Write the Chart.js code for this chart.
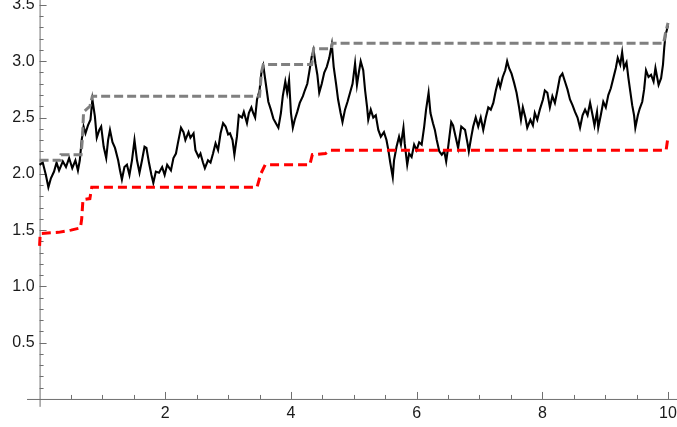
<!DOCTYPE html>
<html>
<head>
<meta charset="utf-8">
<script src="https://cdn.jsdelivr.net/npm/chart.js@4.4.1/dist/chart.umd.min.js"></script>
<style>
  html, body { margin: 0; padding: 0; background: #fff; }
  #wrap { width: 677px; height: 427px; position: relative; }
</style>
</head>
<body>
<div id="wrap"><canvas id="plot"></canvas></div>
<script>
// path (black)
const pathT = [
  0.00, 0.05, 0.10, 0.14, 0.18, 0.23, 0.27, 0.31, 0.37, 0.42, 0.47, 0.52, 0.57, 0.61, 0.64, 0.67, 0.70, 0.73, 0.77, 0.81,
  0.84, 0.88, 0.91, 0.95, 0.98, 1.02, 1.06, 1.09, 1.12, 1.16, 1.20, 1.25, 1.28, 1.31, 1.35, 1.39, 1.43, 1.47, 1.51, 1.55,
  1.59, 1.63, 1.67, 1.70, 1.74, 1.78, 1.81, 1.85, 1.90, 1.95, 1.99, 2.03, 2.09, 2.13, 2.17, 2.20, 2.25, 2.29, 2.32, 2.37,
  2.40, 2.45, 2.48, 2.53, 2.56, 2.60, 2.63, 2.68, 2.72, 2.76, 2.80, 2.84, 2.88, 2.92, 2.96, 3.00, 3.03, 3.07, 3.10, 3.14,
  3.17, 3.22, 3.25, 3.30, 3.33, 3.37, 3.40, 3.43, 3.46, 3.50, 3.53, 3.56, 3.60, 3.64, 3.68, 3.72, 3.76, 3.80, 3.84, 3.87,
  3.91, 3.94, 3.97, 4.00, 4.03, 4.06, 4.10, 4.14, 4.19, 4.22, 4.26, 4.29, 4.33, 4.36, 4.39, 4.42, 4.45, 4.49, 4.53, 4.57,
  4.61, 4.65, 4.68, 4.72, 4.75, 4.79, 4.82, 4.86, 4.90, 4.94, 4.98, 5.02, 5.05, 5.08, 5.11, 5.15, 5.18, 5.21, 5.23, 5.27,
  5.31, 5.35, 5.39, 5.43, 5.48, 5.52, 5.55, 5.58, 5.62, 5.64, 5.68, 5.72, 5.75, 5.79, 5.81, 5.85, 5.88, 5.92, 5.96, 6.00,
  6.04, 6.08, 6.12, 6.15, 6.19, 6.22, 6.26, 6.29, 6.32, 6.36, 6.40, 6.44, 6.47, 6.50, 6.55, 6.58, 6.62, 6.66, 6.71, 6.75,
  6.77, 6.81, 6.83, 6.87, 6.90, 6.94, 6.98, 7.02, 7.06, 7.10, 7.14, 7.18, 7.22, 7.26, 7.30, 7.33, 7.37, 7.41, 7.44, 7.47,
  7.51, 7.55, 7.59, 7.63, 7.66, 7.69, 7.73, 7.76, 7.81, 7.85, 7.88, 7.92, 7.96, 8.01, 8.04, 8.08, 8.12, 8.16, 8.20, 8.24,
  8.28, 8.32, 8.36, 8.40, 8.44, 8.48, 8.52, 8.56, 8.60, 8.64, 8.68, 8.72, 8.76, 8.80, 8.83, 8.87, 8.89, 8.93, 8.97, 9.01,
  9.05, 9.09, 9.13, 9.17, 9.20, 9.24, 9.27, 9.30, 9.34, 9.37, 9.40, 9.43, 9.46, 9.48, 9.52, 9.55, 9.59, 9.62, 9.65, 9.69,
  9.73, 9.77, 9.80, 9.85, 9.89, 9.92, 9.94, 9.96, 10.00
];
const pathValues = [
  2.08, 2.10, 1.99, 1.88, 1.96, 2.02, 2.10, 2.03, 2.11, 2.06, 2.14, 2.05, 2.12, 2.03, 2.12, 2.30, 2.42, 2.36, 2.43, 2.48,
  2.66, 2.51, 2.32, 2.39, 2.42, 2.24, 2.14, 2.30, 2.39, 2.28, 2.23, 2.12, 2.03, 1.95, 2.06, 2.08, 1.99, 2.12, 2.30, 2.12,
  2.01, 2.12, 2.24, 2.23, 2.10, 1.99, 1.92, 2.02, 2.01, 2.06, 1.99, 2.08, 2.03, 2.14, 2.18, 2.27, 2.41, 2.37, 2.30, 2.37,
  2.32, 2.36, 2.21, 2.15, 2.18, 2.10, 2.05, 2.12, 2.10, 2.18, 2.27, 2.21, 2.36, 2.45, 2.42, 2.35, 2.36, 2.30, 2.17, 2.33,
  2.52, 2.50, 2.55, 2.45, 2.54, 2.59, 2.54, 2.50, 2.66, 2.74, 2.90, 2.96, 2.80, 2.64, 2.57, 2.49, 2.45, 2.41, 2.54, 2.69,
  2.82, 2.72, 2.83, 2.54, 2.41, 2.48, 2.55, 2.63, 2.69, 2.74, 2.80, 2.90, 3.04, 3.10, 2.98, 2.88, 2.72, 2.80, 2.90, 2.95,
  3.03, 3.15, 2.95, 2.79, 2.66, 2.54, 2.46, 2.57, 2.64, 2.72, 2.80, 2.98, 2.79, 2.90, 3.00, 2.92, 2.74, 2.60, 2.48, 2.57,
  2.50, 2.52, 2.39, 2.33, 2.37, 2.30, 2.21, 2.10, 1.97, 2.12, 2.24, 2.33, 2.26, 2.41, 2.27, 2.08, 2.18, 2.15, 2.26, 2.21,
  2.28, 2.26, 2.42, 2.57, 2.72, 2.54, 2.45, 2.39, 2.30, 2.20, 2.17, 2.20, 2.11, 2.23, 2.46, 2.43, 2.33, 2.23, 2.42, 2.40,
  2.39, 2.27, 2.20, 2.33, 2.42, 2.50, 2.42, 2.50, 2.39, 2.50, 2.59, 2.57, 2.63, 2.74, 2.83, 2.77, 2.86, 2.92, 3.00, 2.94,
  2.89, 2.81, 2.72, 2.59, 2.48, 2.59, 2.50, 2.41, 2.48, 2.43, 2.54, 2.48, 2.57, 2.66, 2.74, 2.72, 2.59, 2.69, 2.63, 2.74,
  2.86, 2.89, 2.82, 2.75, 2.66, 2.61, 2.55, 2.50, 2.41, 2.52, 2.57, 2.52, 2.63, 2.52, 2.43, 2.55, 2.41, 2.52, 2.64, 2.59,
  2.70, 2.76, 2.85, 2.94, 3.03, 2.97, 3.08, 2.94, 2.99, 2.85, 2.73, 2.61, 2.52, 2.41, 2.52, 2.58, 2.64, 2.75, 2.92, 2.86,
  2.88, 2.82, 2.94, 2.79, 2.85, 2.97, 3.12, 3.23, 3.32
];

// running maximum (gray dashed)
const maxT      = [0.00, 0.33, 0.34, 0.66, 0.68, 0.70, 0.80, 0.84, 3.50, 3.53, 3.56, 4.33, 4.36, 4.64, 4.66, 9.93, 9.96, 10.00];
const maxValues = [2.12, 2.12, 2.17, 2.17, 2.30, 2.55, 2.60, 2.69, 2.69, 2.90, 2.97, 2.97, 3.11, 3.11, 3.16, 3.16, 3.25, 3.34];

// lower step curve (red dashed)
const lowT        = [0.00, 0.01, 0.30, 0.50, 0.65, 0.67, 0.69, 0.80, 0.83, 3.46, 3.52, 3.59, 4.30, 4.34, 4.55, 4.62, 9.97, 10.00];
const lowValues   = [1.36, 1.47, 1.48, 1.50, 1.52, 1.60, 1.77, 1.78, 1.88, 1.88, 2.00, 2.08, 2.08, 2.17, 2.18, 2.21, 2.21, 2.33];

// tick labels
const xTickLabels = [2, 4, 6, 8, 10];
const yTickLabels = [0.5, 1.0, 1.5, 2.0, 2.5, 3.0, 3.5];

const toPoints = (xs, ys) => xs.map((x, i) => ({ x: x, y: ys[i] }));

const AXIS_COLOR = '#6f6f6f';
const LABEL_FONT = '16px "Liberation Sans", Arial, sans-serif';

// Mathematica style axes crossing at the origin, ticks pointing inward
const originAxes = {
    id: 'originAxes',
    beforeDatasetsDraw(chart) {
        const c = chart.ctx;
        const xs = chart.scales.x, ys = chart.scales.y;
        const x0 = xs.getPixelForValue(0), y0 = ys.getPixelForValue(0);
        c.save();
        c.strokeStyle = AXIS_COLOR;
        c.lineWidth = 1;
        c.beginPath();
        c.moveTo(xs.getPixelForValue(-0.2), y0 + 0.5);
        c.lineTo(chart.chartArea.right, y0 + 0.5);
        c.moveTo(x0 + 0.5, chart.chartArea.top);
        c.lineTo(x0 + 0.5, ys.getPixelForValue(-0.07));
        c.stroke();

        c.beginPath();
        for (let i = 1; i <= 20; i++) {
            const px = Math.round(xs.getPixelForValue(i * 0.5)) + 0.5;
            const len = i % 4 === 0 ? 7 : 4;
            c.moveTo(px, y0);
            c.lineTo(px, y0 - len);
        }
        for (let i = 1; i <= 35; i++) {
            const py = Math.round(ys.getPixelForValue(i * 0.1)) + 0.5;
            const len = i % 5 === 0 ? 7 : 4;
            c.moveTo(x0, py);
            c.lineTo(x0 + len, py);
        }
        c.stroke();

        c.fillStyle = '#1a1a1a';
        c.font = LABEL_FONT;
        c.textAlign = 'center';
        c.textBaseline = 'top';
        xTickLabels.forEach(v => c.fillText(String(v), xs.getPixelForValue(v), y0 + 7));
        c.textAlign = 'right';
        c.textBaseline = 'middle';
        yTickLabels.forEach(v => c.fillText(v.toFixed(1), x0 - 5, ys.getPixelForValue(v)));
        c.restore();
    }
};

const ctx = document.getElementById('plot').getContext('2d');
const plot = new Chart(ctx, {
    type: 'scatter',
    data: {
        datasets: [
            {
                data: toPoints(lowT, lowValues),
                showLine: true,
                borderColor: '#ff0000',
                borderWidth: 3,
                borderDash: [9, 5],
                pointRadius: 0,
                tension: 0
            },
            {
                data: toPoints(maxT, maxValues),
                showLine: true,
                borderColor: '#808080',
                borderWidth: 3,
                borderDash: [9, 4],
                pointRadius: 0,
                tension: 0
            },
            {
                data: toPoints(pathT, pathValues),
                showLine: true,
                borderColor: '#000000',
                borderWidth: 2.1,
                borderJoinStyle: 'miter',
                pointRadius: 0,
                tension: 0
            }
        ]
    },
    options: {
        responsive: true,
        maintainAspectRatio: false,
        animation: false,
        layout: { padding: 0 },
        plugins: { legend: { display: false }, tooltip: { enabled: false } },
        scales: {
            x: { type: 'linear', min: -0.63, max: 10.143, display: false },
            y: { type: 'linear', min: -0.249, max: 3.544, display: false }
        }
    },
    plugins: [originAxes]
});
</script>
</body>
</html>
